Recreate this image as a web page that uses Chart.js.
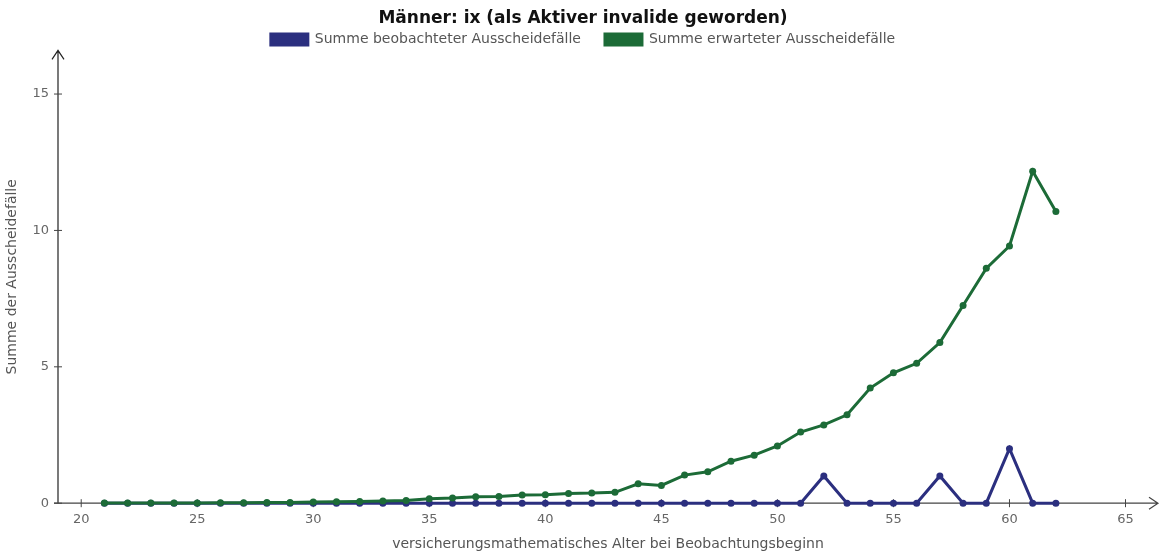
<!DOCTYPE html>
<html>
<head>
<meta charset="utf-8">
<script src="https://cdn.jsdelivr.net/npm/chart.js@4/dist/chart.umd.min.js"></script>
<style>
html,body{margin:0;padding:0;background:#fff;}
#wrap{width:1162px;height:553px;position:relative;}
</style>
</head>
<body>
<div id="wrap"><canvas id="c" width="1162" height="553"></canvas></div>
<script>
const ages = [21,22,23,24,25,26,27,28,29,30,31,32,33,34,35,36,37,38,39,40,41,42,43,44,45,46,47,48,49,50,51,52,53,54,55,56,57,58,59,60,61,62];
const observed = [0,0,0,0,0,0,0,0,0,0,0,0,0,0,0,0,0,0,0,0,0,0,0,0,0,0,0,0,0,0,0,1,0,0,0,0,1,0,0,2,0,0];
const expected = [0.01,0.01,0.01,0.01,0.01,0.02,0.02,0.03,0.03,0.04,0.05,0.06,0.08,0.1,0.16,0.19,0.24,0.25,0.3,0.31,0.36,0.37,0.4,0.71,0.65,1.03,1.15,1.54,1.76,2.1,2.61,2.87,3.24,4.22,4.78,5.13,5.89,7.25,8.61,9.43,12.17,10.69];
const xTicks = [20,25,30,35,40,45,50,55,60,65];
const yTicks = [0,5,10,15];
const seriesNames = ['Summe beobachteter Ausscheidefälle','Summe erwarteter Ausscheidefälle'];
const titleText = 'Männer: ix (als Aktiver invalide geworden)';
const xTitle = 'versicherungsmathematisches Alter bei Beobachtungsbeginn';
const yTitle = 'Summe der Ausscheidefälle';

const FONT = "'DejaVu Sans', sans-serif";
const BLUE = '#2b2f7f';
const GREEN = '#1c6b37';
const LEGEND_GAP = 24;

const legendTrim = {
  id: 'legendTrim',
  beforeLayout(chart) {
    const lg = chart.legend;
    if (lg && !lg._trimmed) {
      const origFit = lg.fit;
      lg.fit = function () { origFit.call(this); this.height = Math.max(0, this.height - 6 - LEGEND_GAP); };
      const origDraw = lg.draw;
      lg.draw = function () {
        const t = this.top;
        this.top = t - LEGEND_GAP;
        origDraw.call(this);
        this.top = t;
      };
      lg._trimmed = true;
    }
  }
};

const axesPlugin = {
  id: 'axesArrows',
  beforeDatasetsDraw(chart) {
    const {ctx, chartArea, scales} = chart;
    const x0 = chartArea.left, y0 = chartArea.bottom;
    ctx.save();
    ctx.strokeStyle = '#222';
    ctx.lineWidth = 1.2;
    ctx.beginPath();
    ctx.moveTo(x0, y0); ctx.lineTo(x0, chartArea.top);
    ctx.moveTo(x0 - 6, chartArea.top + 9); ctx.lineTo(x0, chartArea.top); ctx.lineTo(x0 + 6, chartArea.top + 9);
    ctx.stroke();
    ctx.strokeStyle = '#444';
    ctx.beginPath();
    ctx.moveTo(x0 - 4, y0); ctx.lineTo(chartArea.right, y0);
    ctx.moveTo(chartArea.right - 9, y0 - 6); ctx.lineTo(chartArea.right, y0); ctx.lineTo(chartArea.right - 9, y0 + 6);
    ctx.stroke();
    ctx.lineWidth = 1;
    scales.y.ticks.forEach(t => {
      const y = scales.y.getPixelForValue(t.value);
      ctx.beginPath(); ctx.moveTo(x0 - 4, y); ctx.lineTo(x0 + 4, y); ctx.stroke();
    });
    scales.x.ticks.forEach(t => {
      const x = scales.x.getPixelForValue(t.value);
      ctx.beginPath(); ctx.moveTo(x, y0 - 4); ctx.lineTo(x, y0 + 4); ctx.stroke();
    });
    ctx.restore();
  }
};

const mk = (arr) => ages.map((a, i) => ({x: a, y: arr[i]}));

new Chart(document.getElementById('c'), {
  type: 'line',
  data: {
    datasets: [
      {label: seriesNames[0], order: 2, data: mk(observed), clip: false, borderColor: BLUE, backgroundColor: BLUE, borderWidth: 3, pointRadius: 3.5, pointBackgroundColor: BLUE, pointBorderWidth: 0, tension: 0},
      {label: seriesNames[1], order: 1, data: mk(expected), clip: false, borderColor: GREEN, backgroundColor: GREEN, borderWidth: 3, pointRadius: 3.5, pointBackgroundColor: GREEN, pointBorderWidth: 0, tension: 0}
    ]
  },
  options: {
    responsive: false,
    animation: false,
    layout: {padding: {left: 4, right: 0, top: 0, bottom: 0}},
    plugins: {
      title: {display: true, text: titleText, color: '#111', font: {family: FONT, size: 17, weight: 'bold'}, padding: {top: 8, bottom: 4}},
      legend: {
        display: true,
        labels: {boxWidth: 37, boxHeight: 11, color: '#555', font: {family: FONT, size: 14}, padding: LEGEND_GAP,
          sort: (a, b) => a.datasetIndex - b.datasetIndex}
      },
      tooltip: {enabled: false}
    },
    scales: {
      x: {
        type: 'linear', min: 19, max: 66.4,
        afterBuildTicks: s => { s.ticks = xTicks.map(v => ({value: v})); },
        grid: {display: false, drawTicks: false},
        border: {display: false},
        ticks: {color: '#666', font: {family: FONT, size: 13, lineHeight: 1}, padding: 10, autoSkip: false, maxRotation: 0},
        title: {display: true, text: xTitle, color: '#555', font: {family: FONT, size: 14}, padding: {top: 0, bottom: 0}}
      },
      y: {
        type: 'linear', min: 0, max: 16.6,
        afterBuildTicks: s => { s.ticks = yTicks.map(v => ({value: v})); },
        afterFit: s => { s.width = 54; },
        grid: {display: false, drawTicks: false},
        border: {display: false},
        ticks: {color: '#666', font: {family: FONT, size: 13}, padding: 9},
        title: {display: true, text: yTitle, color: '#555', font: {family: FONT, size: 14}, padding: {top: 0, bottom: 4}}
      }
    }
  },
  plugins: [legendTrim, axesPlugin]
});
</script>
</body>
</html>
